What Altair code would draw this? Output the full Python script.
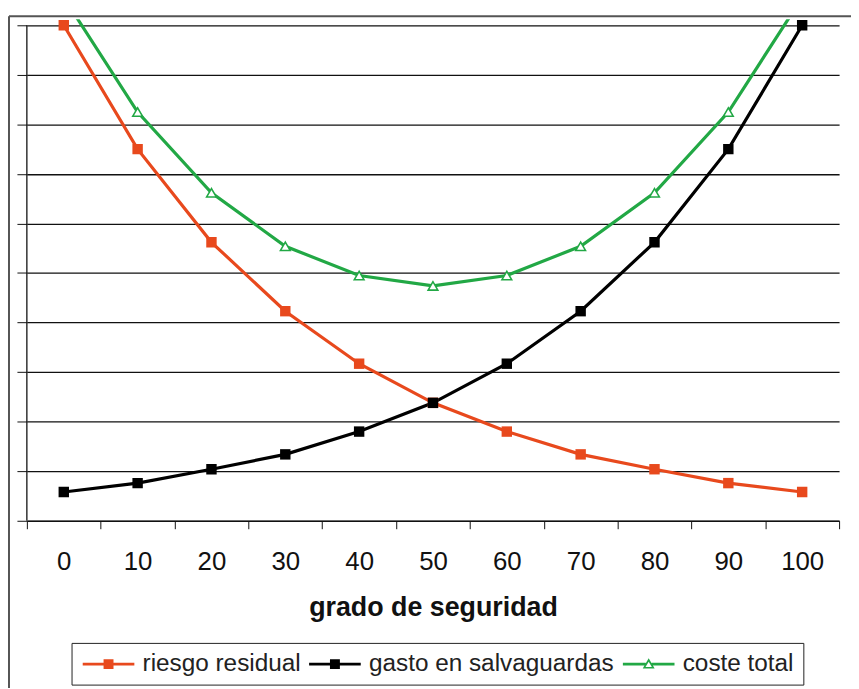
import altair as alt
import pandas as pd

# ---- data ----
grado = [0, 10, 20, 30, 40, 50, 60, 70, 80, 90, 100]
riesgo_residual = [10.0, 7.5, 5.62, 4.23, 3.17, 2.38, 1.8, 1.34, 1.04, 0.76, 0.58]
gasto_salvaguardas = [0.58, 0.76, 1.04, 1.34, 1.8, 2.38, 3.17, 4.23, 5.62, 7.5, 10.0]
coste_total = [10.56, 8.25, 6.62, 5.54, 4.95, 4.74, 4.95, 5.54, 6.62, 8.25, 10.56]

series = ["riesgo residual", "gasto en salvaguardas", "coste total"]
colores = ["#E8491D", "#000000", "#22A845"]
y_ticks = list(range(0, 11))

rows = []
for nombre, valores in zip(series, [riesgo_residual, gasto_salvaguardas, coste_total]):
    for g, v in zip(grado, valores):
        rows.append({"grado": g, "valor": v, "serie": nombre})
df = pd.DataFrame(rows)

FONT = "Liberation Sans"

# legend symbols: line with marker (custom paths)
SQ = "M-1,-0.15H4.2V0.15H-1Z M1.1,-0.5H2.1V0.5H1.1Z"
TRI = ("M-1,-0.15H1.3V0.15H-1Z M1.9,-0.15H4.2V0.15H1.9Z "
       "M1.6,-0.6L2.2,0.45L1.0,0.45Z M1.6,-0.25L1.28,0.3L1.92,0.3Z")
legend_shapes = [SQ, SQ, TRI]

xscale = alt.Scale(type="band", domain=grado, paddingInner=0, paddingOuter=0)
yscale = alt.Scale(domain=[0, 10.12], nice=False, zero=True)

xaxis = alt.Axis(labelAngle=0, labelFontSize=26, labelFont=FONT, labelColor="#111",
                 labelPadding=20, tickBand="extent", tickSize=8, tickColor="#111",
                 domainColor="#111", grid=False, title="grado de seguridad",
                 titleFontSize=27, titleFont=FONT, titleFontWeight="bold",
                 titlePadding=20, titleColor="#111")
yaxis = alt.Axis(values=y_ticks, labels=False, domain=False, ticks=True, tickSize=10,
                 tickColor="#111", grid=True, gridColor="#111", gridWidth=1.3, title=None)

legend = alt.Legend(
    title=None, orient="none", legendX=45, legendY=628, direction="horizontal",
    strokeColor="#222", padding=9, columnPadding=6, labelOffset=38, labelLimit=500,
    labelFont=FONT, labelFontSize=24.5, labelColor="#222",
    symbolSize=400, symbolStrokeWidth=0, symbolOffset=0, symbolOpacity=1,
)

color_scale = alt.Scale(domain=series, range=colores)
color_noleg = alt.Color("serie:N", scale=color_scale, legend=None)

base = alt.Chart(df).encode(
    x=alt.X("grado:O", scale=xscale, axis=xaxis),
    y=alt.Y("valor:Q", scale=yscale, axis=yaxis),
)

# legend-only layer (no rows drawn); placed first so its legend settings win
legend_layer = base.transform_filter("false").mark_point(filled=True, opacity=1).encode(
    color=alt.Color("serie:N", scale=color_scale, legend=legend),
    shape=alt.Shape("serie:N", scale=alt.Scale(domain=series, range=legend_shapes),
                    legend=legend),
)

lines = base.mark_line(strokeWidth=3.2, clip=True).encode(color=color_noleg)

squares = base.transform_filter(
    alt.FieldOneOfPredicate(field="serie", oneOf=series[:2])
).mark_point(shape="square", filled=True, size=110, opacity=1, clip=True).encode(
    color=color_noleg
)

triangles = base.transform_filter(
    alt.FieldEqualPredicate(field="serie", equal=series[2])
).mark_point(shape="triangle-up", filled=False, fill="white", size=95,
             strokeWidth=1.6, opacity=1, clip=True).encode(color=color_noleg)

axis_line = alt.Chart(pd.DataFrame({"valor": [0], "valor2": [10]})).mark_rule(
    color="#111", strokeWidth=1.3
).encode(
    x=alt.value(0),
    y=alt.Y("valor:Q", scale=yscale, axis=yaxis),
    y2="valor2:Q",
)

dummy = pd.DataFrame({"k": [0]})
frame_left = alt.Chart(dummy).mark_rule(color="#555", strokeWidth=2).encode(
    x=alt.value(-18), y=alt.value(-3), y2=alt.value(675)
)
frame_top = alt.Chart(dummy).mark_rule(color="#555", strokeWidth=2).encode(
    x=alt.value(-18), x2=alt.value(830), y=alt.value(-3)
)

chart = alt.layer(legend_layer, axis_line, lines, squares, triangles,
                  frame_left, frame_top).properties(
    width=818, height=505,
    autosize=alt.AutoSizeParams(type="none"),
    padding={"left": 19, "top": 9, "right": 12, "bottom": 166},
).configure_view(stroke=None)

chart.save("out.html", embed_options={"renderer": "svg", "actions": False})
